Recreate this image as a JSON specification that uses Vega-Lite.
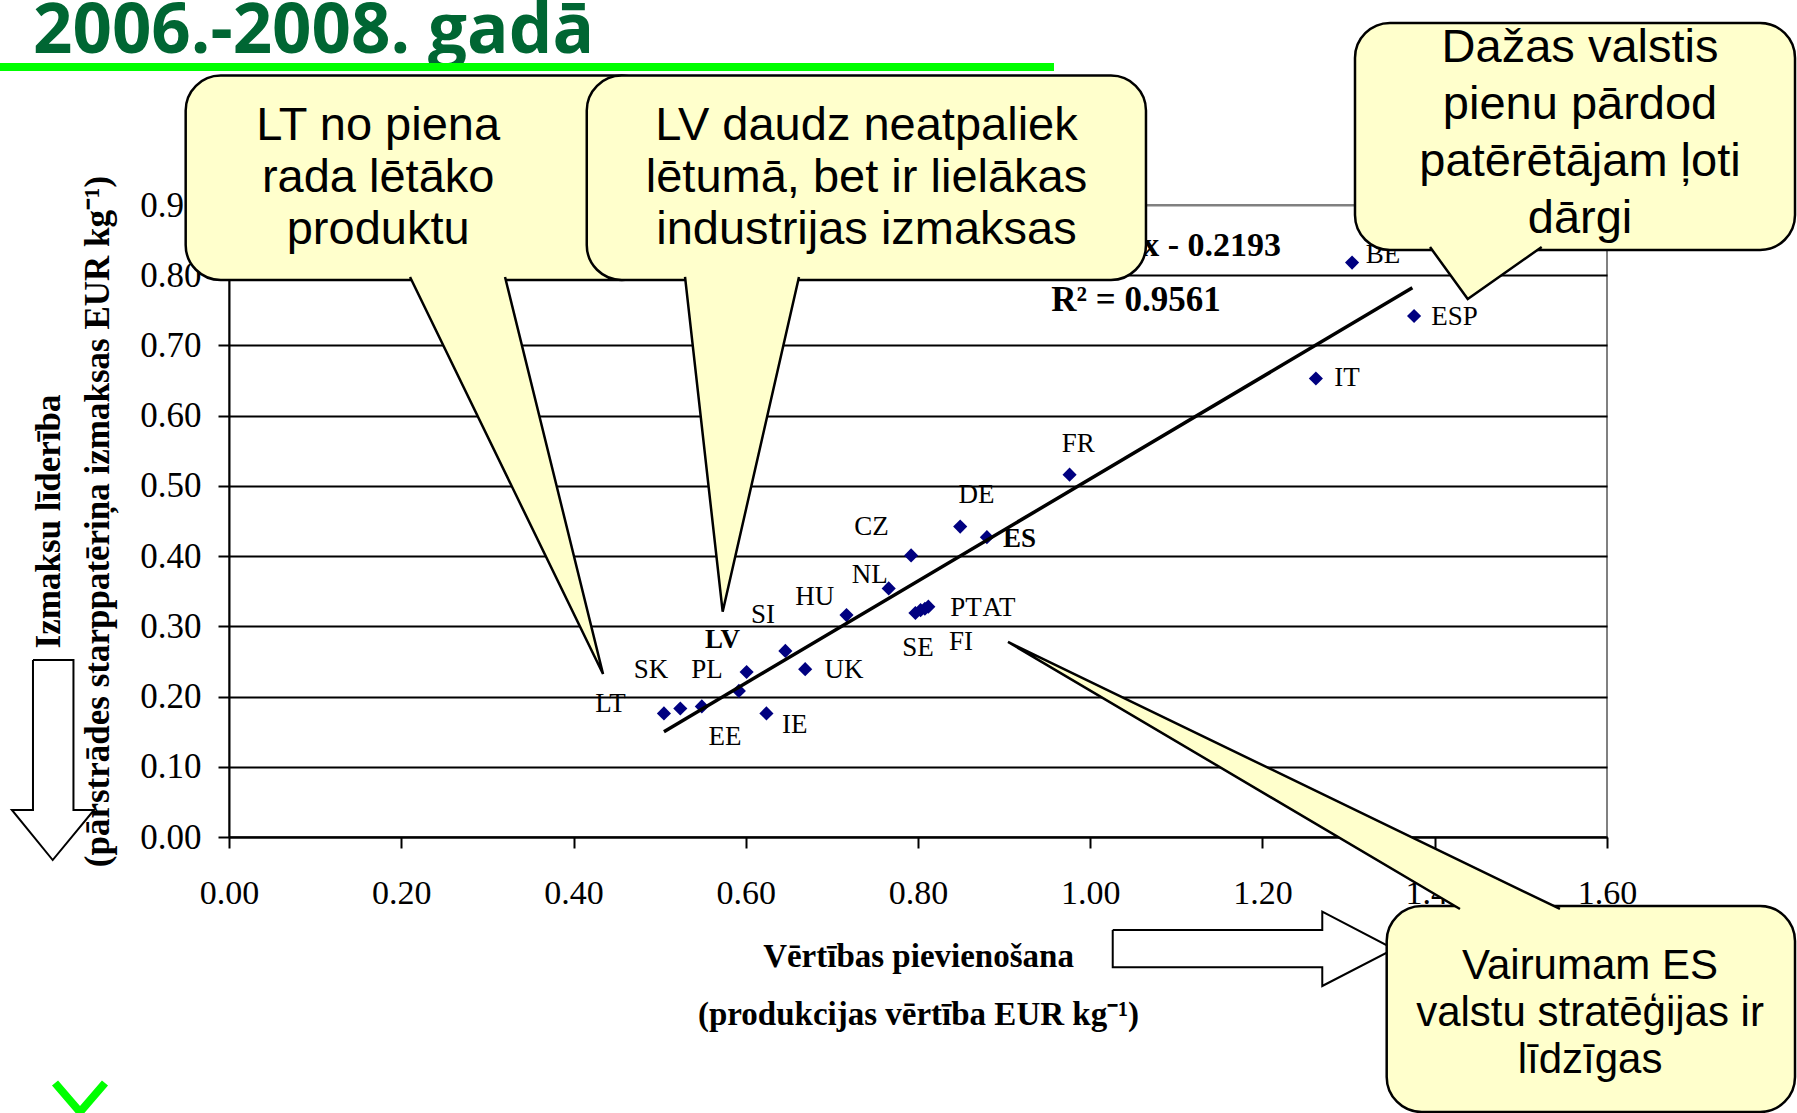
{
 "$schema": "https://vega.github.io/schema/vega-lite/v6.json",
 "width": 1378,
 "height": 632,
 "autosize": {"type": "none"},
 "padding": {"left": 229, "top": 205, "right": 190, "bottom": 276},
 "background": "white",
 "config": {"view": {"stroke": "#808080", "strokeWidth": 2}},
 "datasets": {
  "pts": [
   {"c": "LT", "x": 0.505, "y": 0.176},
   {"c": "SK", "x": 0.524, "y": 0.183},
   {"c": "PL", "x": 0.549, "y": 0.186},
   {"c": "EE", "x": 0.592, "y": 0.208},
   {"c": "LV", "x": 0.601, "y": 0.235},
   {"c": "IE", "x": 0.624, "y": 0.176},
   {"c": "SI", "x": 0.646, "y": 0.265},
   {"c": "UK", "x": 0.669, "y": 0.239},
   {"c": "HU", "x": 0.717, "y": 0.316},
   {"c": "NL", "x": 0.766, "y": 0.354},
   {"c": "CZ", "x": 0.792, "y": 0.401},
   {"c": "SE", "x": 0.797, "y": 0.319},
   {"c": "FI", "x": 0.803, "y": 0.323},
   {"c": "PT", "x": 0.808, "y": 0.325},
   {"c": "AT", "x": 0.812, "y": 0.328},
   {"c": "DE", "x": 0.849, "y": 0.442},
   {"c": "ES", "x": 0.880, "y": 0.427},
   {"c": "FR", "x": 0.976, "y": 0.516},
   {"c": "IT", "x": 1.262, "y": 0.653},
   {"c": "BE", "x": 1.304, "y": 0.818},
   {"c": "ESP", "x": 1.376, "y": 0.742}
  ],
  "labels": [
   {"c": "LT", "x": 0.443, "y": 0.190},
   {"c": "SK", "x": 0.490, "y": 0.238},
   {"c": "PL", "x": 0.555, "y": 0.238},
   {"c": "EE", "x": 0.576, "y": 0.143},
   {"c": "LV", "x": 0.573, "y": 0.281},
   {"c": "IE", "x": 0.657, "y": 0.159},
   {"c": "SI", "x": 0.620, "y": 0.316},
   {"c": "UK", "x": 0.714, "y": 0.238},
   {"c": "HU", "x": 0.680, "y": 0.342},
   {"c": "NL", "x": 0.744, "y": 0.373},
   {"c": "CZ", "x": 0.746, "y": 0.442},
   {"c": "SE", "x": 0.800, "y": 0.269},
   {"c": "FI", "x": 0.850, "y": 0.278},
   {"c": "PT", "x": 0.8557, "y": 0.326},
   {"c": "AT", "x": 0.894, "y": 0.326},
   {"c": "DE", "x": 0.868, "y": 0.487},
   {"c": "ES", "x": 0.918, "y": 0.425},
   {"c": "FR", "x": 0.986, "y": 0.560},
   {"c": "IT", "x": 1.298, "y": 0.653},
   {"c": "BE", "x": 1.340, "y": 0.829},
   {"c": "ESP", "x": 1.423, "y": 0.741}
  ],
  "trend": [
   {"x": 0.505, "y": 0.150},
   {"x": 1.374, "y": 0.782}
  ],
  "eq": [
   {"t": "y = 0.7306x - 0.2193", "x": 1.2215, "y": 0.8267}
  ],
  "r2": [
   {"t": "R² = 0.9561", "x": 1.0531, "y": 0.7484}
  ],
  "heading": [
   {"t": "2006.-2008. gadā", "x": -0.2276, "y": 1.1165}
  ],
  "underline": [
   {"x": -0.2659, "x2": 0.9579, "y": 1.0965}
  ],
  "tick": [
   {"id": "v", "i": 0, "x": -0.2020, "y": -0.3503},
   {"id": "v", "i": 1, "x": -0.1730, "y": -0.3916},
   {"id": "v", "i": 2, "x": -0.1440, "y": -0.3503},
   {"id": "s", "i": 0, "x": -0.1730, "y": -0.3916},
   {"id": "s", "i": 1, "x": -0.1730, "y": -0.4173}
  ],
  "arrows": [
   {"id": "right", "i": 0, "x": 1.0261, "y": -0.1324},
   {"id": "right", "i": 1, "x": 1.2694, "y": -0.1324},
   {"id": "right", "i": 2, "x": 1.2694, "y": -0.1064},
   {"id": "right", "i": 3, "x": 1.3527, "y": -0.1595},
   {"id": "right", "i": 4, "x": 1.2694, "y": -0.2122},
   {"id": "right", "i": 5, "x": 1.2694, "y": -0.1856},
   {"id": "right", "i": 6, "x": 1.0261, "y": -0.1856},
   {"id": "right", "i": 7, "x": 1.0261, "y": -0.1324},
   {"id": "down", "i": 0, "x": -0.2276, "y": 0.2521},
   {"id": "down", "i": 1, "x": -0.1806, "y": 0.2521},
   {"id": "down", "i": 2, "x": -0.1806, "y": 0.0385},
   {"id": "down", "i": 3, "x": -0.1567, "y": 0.0385},
   {"id": "down", "i": 4, "x": -0.2047, "y": -0.0328},
   {"id": "down", "i": 5, "x": -0.2521, "y": 0.0385},
   {"id": "down", "i": 6, "x": -0.2276, "y": 0.0385},
   {"id": "down", "i": 7, "x": -0.2276, "y": 0.2521}
  ],
  "boxes": [
   {"id": "c1", "x": -0.0503, "x2": 0.4967, "y": 1.0843, "y2": 0.7932},
   {"id": "c2", "x": 0.4154, "x2": 1.0647, "y": 1.0843, "y2": 0.7932},
   {"id": "c3", "x": 1.3074, "x2": 1.8183, "y": 1.1592, "y2": 0.8359},
   {"id": "c4", "x": 1.3442, "x2": 1.8183, "y": -0.0983, "y2": -0.3916}
  ],
  "pointers": [
   {"id": "c1", "i": 0, "x": 0.2102, "y": 0.7975},
   {"id": "c1", "i": 1, "x": 0.4343, "y": 0.2321},
   {"id": "c1", "i": 2, "x": 0.3205, "y": 0.7975},
   {"id": "c2", "i": 0, "x": 0.5295, "y": 0.7975},
   {"id": "c2", "i": 1, "x": 0.5732, "y": 0.3208},
   {"id": "c2", "i": 2, "x": 0.6618, "y": 0.7975},
   {"id": "c3", "i": 0, "x": 1.3945, "y": 0.8402},
   {"id": "c3", "i": 1, "x": 1.4383, "y": 0.7662},
   {"id": "c3", "i": 2, "x": 1.5242, "y": 0.8402},
   {"id": "c4", "i": 0, "x": 1.4293, "y": -0.1025},
   {"id": "c4", "i": 1, "x": 0.9045, "y": 0.2777},
   {"id": "c4", "i": 2, "x": 1.5454, "y": -0.1025}
  ],
  "notes": [
   {"g": 1, "t": "LT no piena", "x": 0.1732, "y": 0.9926},
   {"g": 1, "t": "rada lētāko", "x": 0.1732, "y": 0.9185},
   {"g": 1, "t": "produktu", "x": 0.1732, "y": 0.8445},
   {"g": 1, "t": "LV daudz neatpaliek", "x": 0.7402, "y": 0.9926},
   {"g": 1, "t": "lētumā, bet ir lielākas", "x": 0.7402, "y": 0.9185},
   {"g": 1, "t": "industrijas izmaksas", "x": 0.7402, "y": 0.8445},
   {"g": 1, "t": "Dažas valstis", "x": 1.5687, "y": 1.1037},
   {"g": 1, "t": "pienu pārdod", "x": 1.5687, "y": 1.0225},
   {"g": 1, "t": "patērētājam ļoti", "x": 1.5687, "y": 0.9413},
   {"g": 1, "t": "dārgi", "x": 1.5687, "y": 0.8600},
   {"g": 2, "t": "Vairumam ES", "x": 1.5803, "y": -0.2022},
   {"g": 2, "t": "valstu stratēģijas ir", "x": 1.5803, "y": -0.2692},
   {"g": 2, "t": "līdzīgas", "x": 1.5803, "y": -0.3361}
  ]
 },
 "encoding": {
  "x": {
   "field": "x", "type": "quantitative",
   "scale": {"domain": [0, 1.6], "nice": false, "zero": false},
   "axis": {
    "values": [0, 0.2, 0.4, 0.6, 0.8, 1.0, 1.2, 1.4, 1.6],
    "format": ".2f", "grid": false,
    "labelFont": "Liberation Serif", "labelFontSize": 34, "labelColor": "black",
    "labelPadding": 28, "labelFlush": false, "labelOverlap": false,
    "tickSize": 11, "tickWidth": 2, "tickColor": "black",
    "domainColor": "black", "domainWidth": 2,
    "title": ["Vērtības pievienošana", "(produkcijas vērtība EUR kg⁻¹)"],
    "titleFont": "Liberation Serif", "titleFontSize": 33, "titleFontWeight": "bold",
    "titleColor": "black", "titleLineHeight": 58, "titlePadding": 30
   }
  },
  "y": {
   "field": "y", "type": "quantitative",
   "scale": {"domain": [0, 0.9], "nice": false, "zero": false},
   "axis": {
    "values": [0, 0.1, 0.2, 0.3, 0.4, 0.5, 0.6, 0.7, 0.8, 0.9],
    "format": ".2f", "grid": true,
    "gridColor": {"condition": {"test": "datum.value > 0.85", "value": "#808080"}, "value": "black"},
    "gridWidth": 2,
    "labelFont": "Liberation Serif", "labelFontSize": 35, "labelColor": "black",
    "labelPadding": 17, "labelFlush": false, "labelOverlap": false,
    "tickSize": 11, "tickWidth": 2, "tickColor": "black",
    "domainColor": "black", "domainWidth": 2,
    "title": ["Izmaksu līderība", "(pārstrādes starppatēriņa izmaksas EUR kg⁻¹)"],
    "titleFont": "Liberation Serif", "titleFontSize": 35, "titleFontWeight": "bold",
    "titleColor": "black", "titleLineHeight": 49, "titlePadding": 24
   }
  }
 },
 "layer": [
  {
   "data": {"name": "pts"},
   "mark": {"type": "point", "shape": "diamond", "filled": true, "color": "#000080", "size": 200, "opacity": 1}
  },
  {
   "data": {"name": "trend"},
   "mark": {"type": "line", "color": "black", "strokeWidth": 3.5}
  },
  {
   "data": {"name": "labels"},
   "transform": [{"filter": "datum.c !== 'LV' && datum.c !== 'ES'"}],
   "mark": {"type": "text", "font": "Liberation Serif", "fontSize": 27, "color": "black", "align": "center", "baseline": "middle"},
   "encoding": {"text": {"field": "c"}}
  },
  {
   "data": {"name": "labels"},
   "transform": [{"filter": "datum.c === 'LV' || datum.c === 'ES'"}],
   "mark": {"type": "text", "font": "Liberation Serif", "fontSize": 27, "fontWeight": "bold", "color": "black", "align": "center", "baseline": "middle"},
   "encoding": {"text": {"field": "c"}}
  },
  {
   "data": {"name": "eq"},
   "mark": {"type": "text", "font": "Liberation Serif", "fontSize": 34, "fontWeight": "bold", "color": "black", "align": "right", "baseline": "alphabetic"},
   "encoding": {"text": {"field": "t"}}
  },
  {
   "data": {"name": "r2"},
   "mark": {"type": "text", "font": "Liberation Serif", "fontSize": 35, "fontWeight": "bold", "color": "black", "align": "center", "baseline": "alphabetic"},
   "encoding": {"text": {"field": "t"}}
  },
  {
   "data": {"name": "heading"},
   "mark": {"type": "text", "font": "Open Sans", "fontSize": 69, "fontWeight": "bold", "color": "#006633", "align": "left", "baseline": "alphabetic"},
   "encoding": {"text": {"field": "t"}}
  },
  {
   "data": {"name": "underline"},
   "mark": {"type": "rule", "color": "#00FF00", "strokeWidth": 8},
   "encoding": {"x2": {"field": "x2"}}
  },
  {
   "data": {"name": "tick"},
   "mark": {"type": "line", "color": "#00FF00", "strokeWidth": 8, "strokeJoin": "miter"},
   "encoding": {"detail": {"field": "id"}, "order": {"field": "i"}}
  },
  {
   "data": {"name": "arrows"},
   "mark": {"type": "line", "fill": "white", "stroke": "black", "strokeWidth": 2, "strokeJoin": "miter"},
   "encoding": {"detail": {"field": "id"}, "order": {"field": "i"}}
  },
  {
   "data": {"name": "boxes"},
   "mark": {"type": "rect", "fill": "#FFFFCC", "stroke": "black", "strokeWidth": 2.5, "cornerRadius": 35},
   "encoding": {"x2": {"field": "x2"}, "y2": {"field": "y2"}}
  },
  {
   "data": {"name": "pointers"},
   "mark": {"type": "line", "fill": "#FFFFCC", "stroke": "black", "strokeWidth": 2.5, "strokeJoin": "miter"},
   "encoding": {"detail": {"field": "id"}, "order": {"field": "i"}}
  },
  {
   "data": {"name": "notes"},
   "transform": [{"filter": "datum.g === 1"}],
   "mark": {"type": "text", "font": "Liberation Sans", "fontSize": 47, "color": "black", "align": "center", "baseline": "alphabetic"},
   "encoding": {"text": {"field": "t"}}
  },
  {
   "data": {"name": "notes"},
   "transform": [{"filter": "datum.g === 2"}],
   "mark": {"type": "text", "font": "Liberation Sans", "fontSize": 42, "color": "black", "align": "center", "baseline": "alphabetic"},
   "encoding": {"text": {"field": "t"}}
  }
 ]
}
